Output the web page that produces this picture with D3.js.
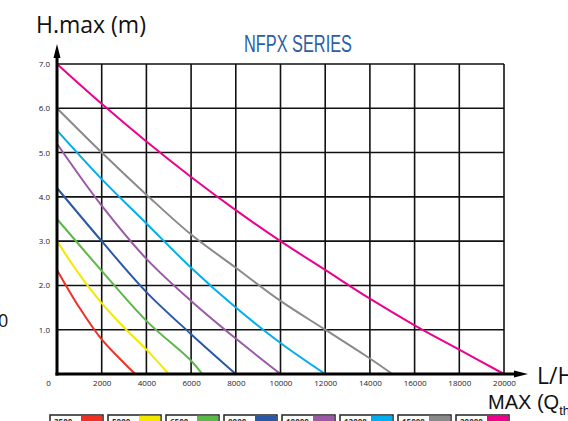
<!DOCTYPE html>
<html lang="en">
<head>
  <meta charset="UTF-8">
  <title>NFPX Series</title>
  <style>
    body { margin: 0; background: #fff; }
    .tick text { font-family: "Open Sans", sans-serif; font-size: 8px; fill: #222; }
  </style>
  <script src="https://cdn.jsdelivr.net/npm/d3@7"></script>
</head>
<body>
<div class="main"></div>
<script>

// max flow of each model (L/H), used for legend labels
var models = ["3500", "5000", "6500", "8000", "10000", "12000", "15000", "20000"];
var colors = ["#ee3124", "#f5e800", "#5cb848", "#2a58a6", "#9a5aa6", "#00aeef", "#8a8a8a", "#ec008c"];

// curve points: flow (L/H) and head (m)
var flows = [
  [0, 1000, 2000, 3000, 3500],
  [0, 1000, 2000, 3000, 4000, 5000],
  [0, 2000, 4000, 6000, 6500],
  [0, 2000, 4000, 6000, 8000],
  [0, 2000, 4000, 6000, 8000, 10000],
  [0, 2000, 4000, 6000, 8000, 10000, 12000],
  [0, 2000, 4000, 6000, 8000, 10000, 12000, 14000, 15000],
  [0, 2000, 4000, 6000, 8000, 10000, 12000, 14000, 16000, 18000, 20000]
];
var heads = [
  [2.35, 1.5, 0.78, 0.25, 0],
  [3.0, 2.25, 1.6, 1.05, 0.55, 0],
  [3.5, 2.33, 1.2, 0.3, 0],
  [4.2, 3.0, 1.85, 0.9, 0],
  [5.2, 3.8, 2.6, 1.65, 0.8, 0],
  [5.5, 4.4, 3.4, 2.4, 1.5, 0.7, 0],
  [6.0, 5.0, 4.05, 3.15, 2.4, 1.65, 1.0, 0.35, 0],
  [7.0, 6.1, 5.25, 4.45, 3.7, 3.0, 2.35, 1.7, 1.1, 0.55, 0]
];

var xTicks = [0, 2000, 4000, 6000, 8000, 10000, 12000, 14000, 16000, 18000, 20000];
var yTicks = [1, 2, 3, 4, 5, 6, 7];

var width = 568, height = 421;

var x = d3.scaleLinear().domain([0, 20000]).range([57, 504]);
var y = d3.scaleLinear().domain([0, 7]).range([374, 64]);

var svg = d3.select(".main").append("svg")
    .attr("width", width)
    .attr("height", height);

// grid
svg.append("g").selectAll("line")
    .data(xTicks.slice(1))
  .enter().append("line")
    .attr("x1", d => x(d)).attr("x2", d => x(d))
    .attr("y1", y(0)).attr("y2", y(7))
    .attr("stroke", "#111").attr("stroke-width", 1.6);

svg.append("g").selectAll("line")
    .data(yTicks)
  .enter().append("line")
    .attr("x1", x(0)).attr("x2", x(20000))
    .attr("y1", d => y(d)).attr("y2", d => y(d))
    .attr("stroke", "#111").attr("stroke-width", 1.6);

// axes (labels only)
var xAxis = svg.append("g")
    .attr("transform", "translate(0," + y(0) + ")")
    .call(d3.axisBottom(x).tickValues(xTicks).tickSize(0).tickPadding(6).tickFormat(d3.format("d")));
xAxis.select(".domain").remove();
xAxis.selectAll(".tick").filter(d => d === 0).select("text").attr("dx", -9);

var yAxis = svg.append("g")
    .attr("transform", "translate(" + x(0) + ",0)")
    .call(d3.axisLeft(y).tickValues(yTicks).tickSize(0).tickPadding(7).tickFormat(d3.format(".1f")));
yAxis.select(".domain").remove();

// curves
var line = d3.line()
    .x(d => x(d[0]))
    .y(d => y(d[1]))
    .curve(d3.curveCatmullRom.alpha(0.5));

svg.append("g").selectAll("path")
    .data(flows.map((f, i) => f.map((v, j) => [v, heads[i][j]])))
  .enter().append("path")
    .attr("d", line)
    .attr("fill", "none")
    .attr("stroke", (d, i) => colors[i])
    .attr("stroke-width", 2);

// main axis lines with arrows
svg.append("line")
    .attr("x1", x(0)).attr("x2", x(0))
    .attr("y1", y(0) + 1.5).attr("y2", 56)
    .attr("stroke", "#000").attr("stroke-width", 3);
svg.append("path")
    .attr("d", "M" + x(0) + ",44 L" + (x(0) - 3.5) + ",58 L" + (x(0) + 3.5) + ",58 Z")
    .attr("fill", "#000");

svg.append("line")
    .attr("x1", x(0) - 1.5).attr("x2", 516)
    .attr("y1", y(0)).attr("y2", y(0))
    .attr("stroke", "#000").attr("stroke-width", 3);
svg.append("path")
    .attr("d", "M528," + y(0) + " L514," + (y(0) - 3.5) + " L514," + (y(0) + 3.5) + " Z")
    .attr("fill", "#000");

// texts
svg.append("text")
    .attr("x", 36).attr("y", 33)
    .style("font-family", "Open Sans, sans-serif")
    .style("font-size", "23px")
    .attr("fill", "#111")
    .text("H.max (m)");

svg.append("text")
    .attr("x", 244).attr("y", 52)
    .attr("textLength", 108).attr("lengthAdjust", "spacingAndGlyphs")
    .style("font-family", "Liberation Sans Narrow, sans-serif")
    .style("font-size", "23px")
    .attr("fill", "#2b5ea4")
    .text("NFPX SERIES");

svg.append("text")
    .attr("x", 537).attr("y", 384)
    .style("font-family", "Open Sans, sans-serif")
    .style("font-size", "23px")
    .attr("fill", "#111")
    .text("L/H");

var mx = svg.append("text")
    .attr("x", 488).attr("y", 409)
    .style("font-family", "Liberation Sans Narrow, sans-serif")
    .style("font-size", "20px")
    .attr("fill", "#111");
mx.append("tspan").text("MAX (Q");
mx.append("tspan").attr("dy", 6).style("font-size", "13px").text("th");
mx.append("tspan").attr("dy", -6).text(")");

svg.append("text")
    .attr("x", -2).attr("y", 327)
    .style("font-family", "Open Sans, sans-serif")
    .style("font-size", "18px")
    .attr("fill", "#111")
    .text("0");

// legend
var leg = svg.append("g").selectAll("g")
    .data(models)
  .enter().append("g")
    .attr("transform", (d, i) => "translate(" + (50 + i * 58) + ",415)");

leg.append("rect")
    .attr("width", 53).attr("height", 14)
    .attr("fill", "#fff").attr("stroke", "#222").attr("stroke-width", 1.5);
leg.append("rect")
    .attr("x", 31).attr("y", 0.75)
    .attr("width", 21.25).attr("height", 13)
    .attr("fill", (d, i) => colors[i]);
leg.append("text")
    .attr("x", 4).attr("y", 10)
    .style("font-family", "Open Sans, sans-serif")
    .style("font-size", "8px")
    .style("font-weight", "bold")
    .attr("fill", "#333")
    .text(d => d);

</script>
</body>
</html>
